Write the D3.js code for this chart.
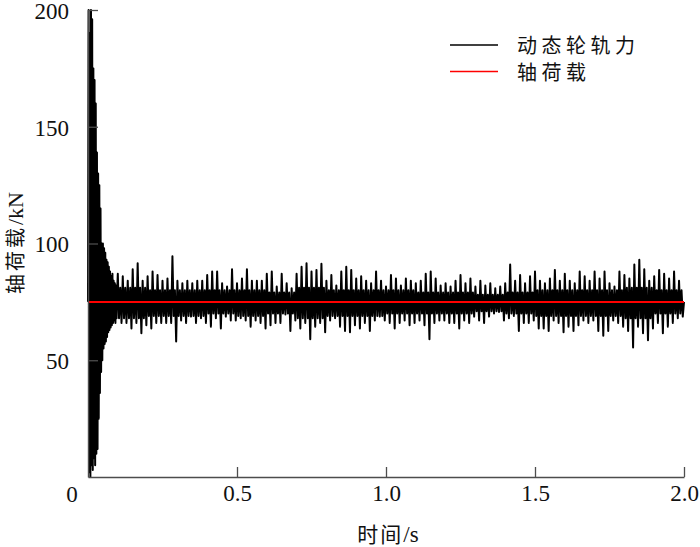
<!DOCTYPE html>
<html><head><meta charset="utf-8">
<script src="https://cdn.jsdelivr.net/npm/d3@7"></script>
<style>
html,body{margin:0;padding:0;background:#fff;}
svg{display:block;}
</style></head>
<body>
<svg id="chart" width="700" height="547"></svg>
<script>
// ---- data ----
const xTicks = [0.5, 1.0, 1.5, 2.0];
const xTickLabels = ["0.5", "1.0", "1.5", "2.0"];
const yTicks = [50, 100, 150, 200];
const yTickLabels = ["50", "100", "150", "200"];
const axleLoad = 75; // kN
const legendLabels = ["动态轮轨力", "轴荷载"];

// start-up transient, one sample every 0.002 s from t = 0 to 0.098 s
const transientStep = 0.002;
const transient = [75,200,2,190,0,200,5,196,3,175,8,170,5,160,10,139,12,130,25,125,
  36,115,45,100,50,100,55,98,57,96,58,93,60,92,62,90,63,88,64,86,65,87,66,84,67,83,66,82,68,80];

// steady part: one oscillation cycle every 1/60 s starting at t = 0.1 s
const cycleStart = 0.1;
const cycleStep = 1 / 60;
const upperPeaks = [87,86,84,89,91.5,84,86,88,86.5,84,85,94.5,84,83,84,83,84,84,86.5,88,
  88,83,81.6,89,83,85,89,84,84,84,87,88,81.6,87,
  83,80.8,87,90,91.5,88,88.7,91.3,84,86.5,82,88,90,88.7,85,86,84,83,88,84,
  81.6,86.5,85,82,85,84,83,84,87,88,85,82,83,81.6,84,86.5,83,85,81.6,84,
  82,83,80.8,81.6,83,91,84,86.5,83,86,88,84,83,85,88.7,84,87,84,83,88,
  86,84,88,85,88,83,81.6,88,86.5,85,91,93,89,84,86,88.7,87,85,88,84];
const lowerTroughs = [66,66,63.6,66,61.6,65,63.6,66,66,66,66,58,67,66,68.7,66,68,66,64.4,68,
  63.6,68.7,67,67,68,67,64.4,67,66,63.6,65,66,66,69.6,
  62.5,67,63.6,66,59,64.4,66,62,67,68,64.4,62.5,62,65,63.6,66,62.5,67,68.7,67,
  66,63.6,66,67,65,66,67,65,59,66,67,67,66,66,63.6,67,66,68.7,67,66,
  68.7,70,70.7,67,68,69,62.5,66,66,67,63.6,63.6,62.5,67,66,62,64.4,62.5,65,67,
  66,67,62.5,60.5,62.5,67,66,64.4,62.5,55.5,64.4,61.6,58.6,63.6,66,61.6,64.4,66,68,68.7];
// dense core band of the trace, per 0.1 s segment from t = 0.1 s
const bandStep = 0.1;
const coreHigh = [81,80,80,80,80,79,81,80,80,80,79,79,78,79,80,80,80,81,80];
const coreLow  = [68,69,69,70,69,70,68,69,69,70,70,70,71,70,69,69,69,68,70];

// ---- layout ----
const svg = d3.select("#chart");
const x = d3.scaleLinear().domain([0, 2]).range([88, 684]);
const y = d3.scaleLinear().domain([0, 200]).range([477, 10]);

// build trace
const pts = transient.map((v, i) => ({t: i * transientStep, v}));
upperPeaks.forEach((u, k) => {
  const t = cycleStart + k * cycleStep;
  const b = Math.min(coreHigh.length - 1, Math.floor((t - cycleStart) / bandStep + 1e-9));
  pts.push({t, v: u});
  pts.push({t: t + cycleStep * 0.25, v: coreLow[b]});
  pts.push({t: t + cycleStep * 0.5, v: coreHigh[b]});
  pts.push({t: t + cycleStep * 0.75, v: lowerTroughs[k]});
});
pts.push({t: 2.0, v: axleLoad});

const line = d3.line().x(d => x(d.t)).y(d => y(d.v));
svg.append("path").datum(pts)
  .attr("d", line)
  .attr("fill", "none")
  .attr("stroke", "#000")
  .attr("stroke-width", 2)
  .attr("stroke-linejoin", "round");

// axle load line
svg.append("line")
  .attr("x1", x(0)).attr("x2", x(2))
  .attr("y1", y(axleLoad)).attr("y2", y(axleLoad))
  .attr("stroke", "#ff0000").attr("stroke-width", 2);

// axes
const axisColor = "#4d4d4d";
const tickFont = "'Liberation Serif','Times New Roman',serif";
const xAxis = d3.axisBottom(x).tickValues(xTicks).tickSizeInner(-10).tickSizeOuter(0)
  .tickFormat((d, i) => xTickLabels[i]).tickPadding(16);
const gx = svg.append("g").attr("transform", `translate(0,${y(0)})`).call(xAxis);
const yAxis = d3.axisLeft(y).tickValues(yTicks).tickSizeInner(-10).tickSizeOuter(0)
  .tickFormat((d, i) => yTickLabels[i]).tickPadding(19);
const gy = svg.append("g").attr("transform", `translate(${x(0)},0)`).call(yAxis);
[gx, gy].forEach(g => {
  g.select(".domain").attr("stroke", axisColor).attr("stroke-width", 1.4);
  g.selectAll(".tick line").attr("stroke", axisColor).attr("stroke-width", 1.3);
  g.selectAll(".tick text").attr("fill", "#111").style("font-family", tickFont).style("font-size", "23px");
});
gx.selectAll(".tick text").attr("dy", "0.32em").attr("y", 17);
gy.selectAll(".tick text").attr("dy", "0.36em");
// origin label
svg.append("text").attr("x", 72).attr("y", 494).attr("dy", "0.35em")
  .attr("text-anchor", "middle").attr("fill", "#111")
  .style("font-family", tickFont).style("font-size", "23px").text("0");

const cjk = "'Noto Sans CJK SC','Noto Sans',sans-serif";
// x title
const xt = svg.append("text").attr("x", 388).attr("y", 535).attr("dy", "0.35em")
  .attr("text-anchor", "middle").attr("fill", "#111").style("font-size", "21px");
xt.append("tspan").style("font-family", cjk).style("letter-spacing", "2px").text("时间");
xt.append("tspan").style("font-family", tickFont).style("font-size", "23px").text("/s");
// y title
const yt = svg.append("text").attr("transform", "translate(16,243) rotate(-90)")
  .attr("dy", "0.35em").attr("text-anchor", "middle").attr("fill", "#111").style("font-size", "20px");
yt.append("tspan").style("font-family", cjk).style("letter-spacing", "3px").text("轴荷载");
yt.append("tspan").style("font-family", tickFont).style("font-size", "22px").text("/kN");

// legend
const legColors = ["#000", "#ff0000"];
const legY = [45, 71.5];
legendLabels.forEach((lab, i) => {
  svg.append("line").attr("x1", 450).attr("x2", 498).attr("y1", legY[i]).attr("y2", legY[i])
    .attr("stroke", legColors[i]).attr("stroke-width", 1.6);
  svg.append("text").attr("x", 517).attr("y", legY[i] + 1).attr("dy", "0.35em")
    .attr("fill", "#111").style("font-family", cjk).style("font-size", "20px")
    .style("letter-spacing", "4.5px").text(lab);
});
</script>
</body></html>
